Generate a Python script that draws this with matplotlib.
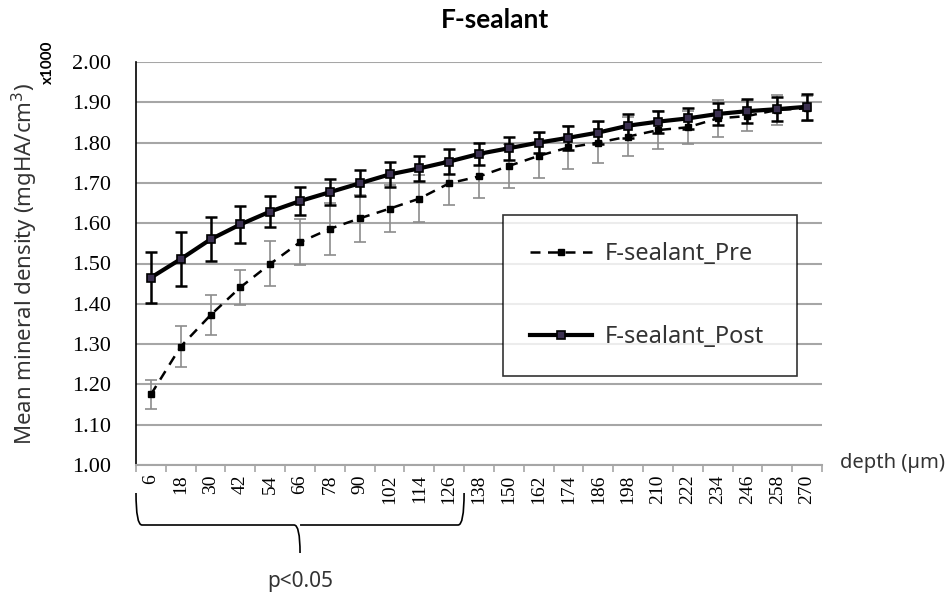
import matplotlib

matplotlib.use("Agg")
import matplotlib.pyplot as plt
import numpy as np
from matplotlib.path import Path
from matplotlib.patches import PathPatch
from matplotlib.transforms import blended_transform_factory

# depth categories (µm)
depths = [6, 18, 30, 42, 54, 66, 78, 90, 102, 114, 126, 138, 150, 162, 174,
          186, 198, 210, 222, 234, 246, 258, 270]

pre_mean = [1.175, 1.294, 1.372, 1.441, 1.499, 1.553, 1.586, 1.612, 1.636, 1.661,
            1.699, 1.716, 1.742, 1.767, 1.788, 1.800, 1.815, 1.831, 1.838, 1.860,
            1.866, 1.881, 1.885]
pre_err = [0.037, 0.050, 0.050, 0.043, 0.056, 0.057, 0.064, 0.059, 0.058, 0.059,
           0.055, 0.054, 0.054, 0.056, 0.054, 0.050, 0.048, 0.047, 0.041, 0.045,
           0.037, 0.038, 0.031]

post_mean = [1.465, 1.511, 1.560, 1.597, 1.629, 1.655, 1.677, 1.699, 1.721, 1.736,
             1.753, 1.772, 1.786, 1.800, 1.812, 1.825, 1.842, 1.852, 1.860, 1.871,
             1.878, 1.883, 1.889]
post_err = [0.063, 0.066, 0.055, 0.045, 0.038, 0.034, 0.033, 0.032, 0.031, 0.031,
            0.030, 0.028, 0.028, 0.027, 0.030, 0.029, 0.030, 0.027, 0.027, 0.028,
            0.029, 0.030, 0.032]

y_ticks = [1.00, 1.10, 1.20, 1.30, 1.40, 1.50, 1.60, 1.70, 1.80, 1.90, 2.00]
signif_span = (6, 126)  # depths with p<0.05

SANS = ["Noto Sans", "DejaVu Sans"]
BOLD = ["Lato", "DejaVu Sans"]
SERIF = ["Liberation Serif", "DejaVu Serif"]
TXT = "#333333"

fig = plt.figure(figsize=(9.52, 5.99), dpi=100)
ax = fig.add_axes([136 / 952, 1 - 465 / 599, 686 / 952, 403 / 599])

x = np.arange(len(depths))

ax.errorbar(x, pre_mean, yerr=pre_err, fmt="none", ecolor="#8c8c8c",
            elinewidth=1.2, capsize=4.5, capthick=1.2, zorder=3)
ax.plot(x, pre_mean, color="black", linestyle=(0, (4, 3)), linewidth=1.8,
        marker="s", markersize=5, markerfacecolor="black",
        markeredgecolor="black", label="F-sealant_Pre", zorder=4)

ax.errorbar(x, post_mean, yerr=post_err, fmt="none", ecolor="black",
            elinewidth=1.8, capsize=4.5, capthick=1.8, zorder=5)
ax.plot(x, post_mean, color="black", linewidth=3, marker="s", markersize=6,
        markerfacecolor="#3b3050", markeredgecolor="black",
        markeredgewidth=1.2, label="F-sealant_Post", zorder=6)

ax.set_xlim(-0.5, len(depths) - 0.5)
ax.set_ylim(1.0, 2.0)
ax.set_yticks(y_ticks)
ax.set_yticklabels([f"{v:.2f}" for v in y_ticks])
ax.set_xticks(x)
ax.set_xticklabels([str(d) for d in depths])
ax.set_xticks(np.arange(-0.5, len(depths), 1.0), minor=True)
ax.yaxis.grid(True, color="#a6a6a6", linewidth=1.5)
ax.set_axisbelow(True)
ax.tick_params(axis="y", length=0, pad=18, labelsize=16,
               labelfontfamily=SERIF)
ax.tick_params(axis="x", which="major", length=0, pad=7, labelsize=14,
               labelrotation=90, labelfontfamily=SERIF)
ax.tick_params(axis="x", which="minor", length=5, width=1.2, color="#a6a6a6")

for side in ("top", "right"):
    ax.spines[side].set_visible(False)
ax.spines["left"].set_color("black")
ax.spines["left"].set_linewidth(1.2)
ax.spines["bottom"].set_color("#a6a6a6")
ax.spines["bottom"].set_linewidth(1.5)

ax.set_ylabel("Mean mineral density (mgHA/cm$^3$)", fontfamily=SANS,
              fontsize=16, color=TXT)
ax.yaxis.set_label_coords(-0.14, 0.5)

fig.text(495 / 952, 1 - 20 / 599, "F-sealant", ha="center", va="center",
         fontsize=19, fontweight="bold", fontfamily=BOLD)
fig.text(48 / 952, 1 - 62 / 599, "x1000", rotation=90, ha="center",
         va="center", fontsize=11, fontweight="bold", fontfamily=BOLD)
fig.text(893 / 952, 1 - 463 / 599, "depth (µm)", ha="center", va="center",
         fontsize=14.5, fontfamily=SANS, color=TXT)

leg = ax.legend(loc="upper left", bbox_to_anchor=(0.535, 0.223, 0.428, 0.398),
                mode="expand", frameon=True, fancybox=False,
                prop={"family": SANS, "size": 17}, handlelength=2.6,
                labelspacing=2.5, borderpad=1.15, handletextpad=0.55,
                borderaxespad=0)
leg.get_frame().set_edgecolor("black")
leg.get_frame().set_linewidth(1.2)
for t in leg.get_texts():
    t.set_color(TXT)

# curly brace under the significant depth range
i0 = depths.index(signif_span[0]) - 0.5
i1 = depths.index(signif_span[1]) + 0.5
xm = (i0 + i1) / 2
trans = blended_transform_factory(ax.transData, fig.transFigure)
yt = 1 - 493 / 599
yl = 1 - 525 / 599
yp = 1 - 553 / 599
d = 0.2
verts = [(i0, yt), (i0, yl), (i0 + d, yl),
         (xm - d, yl), (xm, yl), (xm, yp),
         (xm, yl), (xm + d, yl),
         (i1 - d, yl), (i1, yl), (i1, yt)]
codes = [Path.MOVETO, Path.CURVE3, Path.CURVE3,
         Path.LINETO, Path.CURVE3, Path.CURVE3,
         Path.MOVETO, Path.CURVE3,
         Path.LINETO, Path.CURVE3, Path.CURVE3]
brace = PathPatch(Path(verts, codes), transform=trans, facecolor="none",
                  edgecolor="black", linewidth=1.2, clip_on=False)
ax.add_patch(brace)
ax.text(xm, 1 - 582 / 599, "p<0.05", transform=trans, ha="center",
        va="center", fontsize=15, fontfamily=SANS, color=TXT)

fig.savefig("out.png", dpi=100)
